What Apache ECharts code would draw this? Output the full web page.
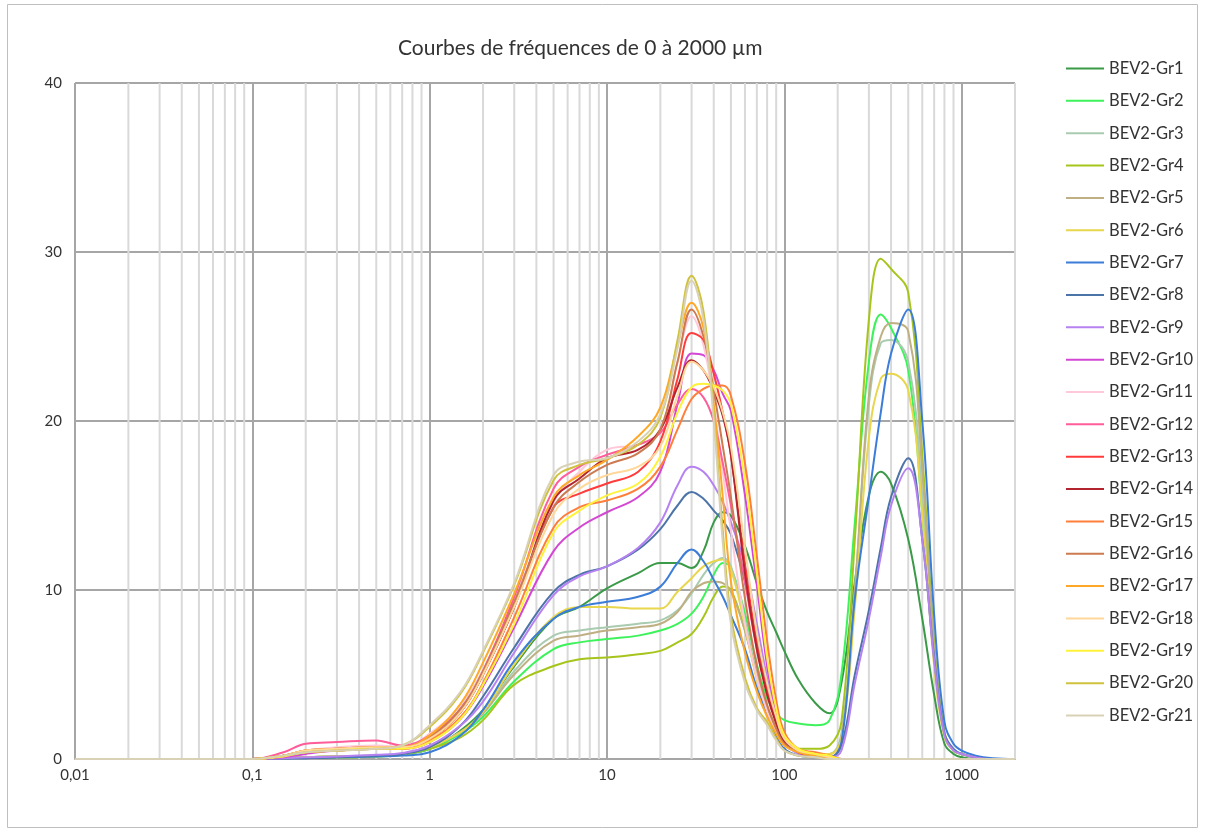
<!DOCTYPE html>
<html>
<head>
<meta charset="utf-8">
<script src="https://cdn.jsdelivr.net/npm/echarts@6/dist/echarts.min.js"></script>
<style>html,body{margin:0;padding:0;background:#fff;}#c{width:1206px;height:831px;}</style>
</head>
<body>
<div id="c"></div>
<script>
// particle sizes (µm)
const sizes = [0.01,0.1,0.15,0.2,0.3,0.5,0.7, 1,1.5,2,3,5,7, 10,15,20,25,30,35,40,45,50,60,70,80,90, 100,120,150,180, 210,250,300,350,400,500,600,700,800,900, 1000,1200,1500,2000];

const names = ['BEV2-Gr1','BEV2-Gr2','BEV2-Gr3','BEV2-Gr4','BEV2-Gr5','BEV2-Gr6','BEV2-Gr7','BEV2-Gr8','BEV2-Gr9','BEV2-Gr10','BEV2-Gr11','BEV2-Gr12','BEV2-Gr13','BEV2-Gr14','BEV2-Gr15','BEV2-Gr16','BEV2-Gr17','BEV2-Gr18','BEV2-Gr19','BEV2-Gr20','BEV2-Gr21'];
const colors = ['#3A9A47','#3DF25A','#A9CBB0','#A6C51C','#BFB083','#E8D64C','#3B7DD8','#4D74A8','#B682F2','#D447D4','#FFC9D9','#FF5C9A','#FF3B3B','#B2252F','#FF7F3A','#CC7A50','#FFA828','#FFD89A','#FFF23A','#CFC23E','#D9D1B5'];

const gr1 = [0,0,0.05,0.1,0.15,0.2,0.3, 0.6,1.7,2.9,5.5,8.3,9.0, 10.1,11.0,11.6,11.6,11.3,12.3,14.0,14.6,14.4,12.6,10.4,8.7,7.5, 6.4,4.7,3.3,2.7, 4.5,10.5,15.6,17.0,16.3,13.0,8.3,3.8,0.9,0.3, 0.1,0,0,0];
const gr2 = [0,0,0.05,0.1,0.1,0.15,0.25, 0.6,1.5,2.5,4.6,6.5,6.9, 7.1,7.3,7.6,8.0,8.6,9.6,10.9,11.6,11.3,8.6,5.6,3.6,2.7, 2.3,2.1,2.0,2.3, 5.0,14.0,23.5,26.3,25.5,23.0,14.5,6.0,1.5,0.5, 0.3,0.1,0,0];
const gr3 = [0,0,0.05,0.1,0.15,0.2,0.3, 0.7,1.6,2.7,5.2,7.3,7.6, 7.8,8.0,8.2,8.8,9.8,10.9,11.6,11.9,11.4,8.2,5.0,3.0,1.8, 1.1,0.5,0.3,0.3, 1.5,10.0,21.0,24.6,24.8,23.5,15.5,6.0,1.4,0.5, 0.3,0.1,0,0];
const gr4 = [0,0,0.05,0.1,0.1,0.15,0.25, 0.6,1.3,2.3,4.4,5.5,5.9, 6.0,6.2,6.4,6.9,7.4,8.4,9.6,10.2,10.0,7.6,4.8,2.9,1.6, 1.0,0.6,0.6,0.8, 2.2,13.0,26.0,29.6,29.0,27.6,18.0,7.0,1.6,0.5, 0.3,0.1,0,0];
const gr5 = [0,0,0.05,0.1,0.15,0.2,0.3, 0.7,1.6,2.7,5.0,7.0,7.3, 7.6,7.8,8.0,8.7,9.9,10.4,10.5,10.4,9.9,7.6,5.0,3.1,1.9, 1.1,0.5,0.3,0.3, 1.3,10.0,21.5,25.0,25.8,25.3,17.0,6.5,1.5,0.5, 0.3,0.1,0,0];
const gr6 = [0,0,0.05,0.1,0.15,0.2,0.3, 0.7,1.6,2.8,5.6,8.4,9.0, 9.0,8.9,8.9,9.9,10.7,11.4,11.7,11.8,11.2,7.9,4.7,2.7,1.5, 0.8,0.4,0.3,0.3, 1.2,9.0,19.0,22.5,22.8,21.8,14.5,5.5,1.3,0.5, 0.3,0.1,0,0];
const gr7 = [0,0,0.03,0.05,0.1,0.15,0.2, 0.4,1.4,2.9,5.8,8.3,9.0, 9.3,9.6,10.2,11.6,12.4,11.7,10.6,9.6,8.5,6.5,4.2,2.7,1.4, 0.6,0.2,0.1,0.1, 1.0,9.5,15.5,20.5,24.0,26.6,20.0,8.5,2.2,0.9, 0.5,0.2,0.05,0];
const gr8 = [0,0,0.03,0.05,0.1,0.2,0.3, 0.7,2.0,3.7,6.6,9.9,10.9, 11.4,12.4,13.6,15.0,15.8,15.4,14.7,14.1,13.3,10.5,7.0,4.2,2.2, 1.0,0.4,0.2,0.1, 0.8,5.0,8.8,12.5,15.5,17.8,13.0,6.0,1.5,0.6, 0.3,0.1,0,0];
const gr9 = [0,0,0.05,0.1,0.15,0.25,0.35, 0.8,2.0,3.4,6.3,9.7,10.8, 11.4,12.5,14.0,16.2,17.3,17.0,16.2,15.2,14.0,11.5,8.0,4.8,2.5, 1.0,0.3,0.1,0.1, 0.5,4.5,8.3,12.0,15.0,17.2,13.0,5.8,1.4,0.5, 0.3,0.1,0,0];
const gr10 = [0,0,0.1,0.3,0.5,0.6,0.6, 1.0,2.4,4.3,7.8,12.3,13.7, 14.6,15.5,17.0,21.0,24.0,23.9,23.0,21.6,20.6,15.6,10.3,5.5,2.8, 1.2,0.5,0.3,0.2, 0,0,0,0,0,0,0,0,0,0, 0,0,0,0];
const gr11 = [0,0,0.2,0.5,0.7,0.8,0.7, 1.5,3.2,5.3,9.3,15.2,17.0, 18.3,18.6,19.4,23.5,26.2,24.5,21.0,17.0,13.5,8.0,4.8,2.8,1.6, 0.8,0.4,0.2,0.1, 0,0,0,0,0,0,0,0,0,0, 0,0,0,0];
const gr12 = [0,0,0.4,0.9,1.0,1.1,0.8, 1.4,3.0,5.2,9.6,16.0,17.3, 18.0,18.6,19.3,21.0,21.9,21.4,20.0,17.5,15.0,10.5,6.5,4.0,2.2, 1.0,0.4,0.2,0.1, 0,0,0,0,0,0,0,0,0,0, 0,0,0,0];
const gr13 = [0,0,0.2,0.5,0.6,0.7,0.7, 1.2,2.8,5.0,9.0,14.9,15.7, 16.3,17.0,18.8,22.5,25.2,24.8,22.8,20.5,18.0,11.5,6.8,4.0,2.2, 1.0,0.4,0.2,0.1, 0,0,0,0,0,0,0,0,0,0, 0,0,0,0];
const gr14 = [0,0,0.2,0.4,0.5,0.6,0.6, 1.2,2.8,5.0,9.0,15.3,16.6, 17.8,18.3,19.5,22.0,23.6,23.0,21.8,20.3,18.0,11.0,6.5,3.8,2.1, 1.0,0.4,0.2,0.1, 0,0,0,0,0,0,0,0,0,0, 0,0,0,0];
const gr15 = [0,0,0.2,0.4,0.5,0.6,0.6, 1.1,2.5,4.5,8.4,13.7,14.9, 15.3,16.0,17.3,19.5,21.3,21.9,22.1,22.1,21.5,17.5,12.0,7.0,3.5, 1.6,0.6,0.4,0.2, 0,0,0,0,0,0,0,0,0,0, 0,0,0,0];
const gr16 = [0,0,0.2,0.5,0.6,0.7,0.7, 1.3,3.0,5.2,9.3,14.9,16.4, 17.4,18.1,19.5,23.5,26.6,25.0,21.8,18.5,15.5,9.5,5.5,3.2,1.8, 0.9,0.4,0.2,0.1, 0,0,0,0,0,0,0,0,0,0, 0,0,0,0];
const gr17 = [0,0,0.2,0.5,0.6,0.7,0.7, 1.4,3.3,5.7,9.8,15.5,16.8, 17.7,19.1,20.8,24.5,27.0,25.5,21.0,15.5,10.5,6.3,4.0,2.5,1.5, 0.8,0.4,0.2,0.1, 0,0,0,0,0,0,0,0,0,0, 0,0,0,0];
const gr18 = [0,0,0.2,0.5,0.6,0.7,0.7, 1.2,2.8,5.0,9.0,14.5,16.0, 16.8,17.3,18.5,21.5,23.5,23.0,22.0,20.5,18.5,12.5,7.5,4.5,2.5, 1.2,0.5,0.3,0.1, 0,0,0,0,0,0,0,0,0,0, 0,0,0,0];
const gr19 = [0,0,0.15,0.4,0.5,0.6,0.6, 1.0,2.4,4.4,8.0,13.4,14.7, 15.6,16.3,17.9,20.5,22.0,22.2,22.1,21.8,21.0,16.5,11.0,6.0,3.0, 1.4,0.6,0.3,0.2, 0,0,0,0,0,0,0,0,0,0, 0,0,0,0];
const gr20 = [0,0,0.2,0.4,0.5,0.6,0.8, 1.9,3.9,6.3,10.3,16.5,17.4, 17.8,18.6,20.2,24.8,28.6,26.5,20.5,13.5,8.5,4.8,3.0,2.2,1.2, 0.5,0.2,0.1,0, 0,0,0,0,0,0,0,0,0,0, 0,0,0,0];
const gr21 = [0,0,0.2,0.4,0.5,0.6,0.8, 2.0,4.0,6.4,10.4,16.8,17.6, 17.8,18.8,20.4,24.3,28.3,26.0,20.0,12.8,8.0,4.5,2.9,2.0,1.1, 0.5,0.2,0.1,0, 0,0,0,0,0,0,0,0,0,0, 0,0,0,0];

// minor gridline positions (log axis)
const minorTicks = [0.02,0.03,0.04,0.05,0.06,0.07,0.08,0.09, 0.2,0.3,0.4,0.5,0.6,0.7,0.8,0.9, 2,3,4,5,6,7,8,9, 20,30,40,50,60,70,80,90, 200,300,400,500,600,700,800,900, 2000];

const allSeries = [gr1,gr2,gr3,gr4,gr5,gr6,gr7,gr8,gr9,gr10,gr11,gr12,gr13,gr14,gr15,gr16,gr17,gr18,gr19,gr20,gr21];

const FONT = 'Lato, "Open Sans", sans-serif';
const chart = echarts.init(document.getElementById('c'), null, {renderer: 'canvas'});

const series = [{
  type: 'custom',
  silent: true,
  z: 1,
  animation: false,
  data: minorTicks.map(v => [v, 0]),
  encode: {x: 0, y: 1},
  renderItem: function (params, api) {
    const v = api.value(0);
    const p0 = api.coord([v, 0]);
    const p1 = api.coord([v, 40]);
    return {type: 'line', shape: {x1: p0[0], y1: p0[1], x2: p1[0], y2: p1[1]},
            style: {stroke: '#D9D9D9', lineWidth: 2}};
  }
}];
allSeries.forEach((arr, i) => {
  series.push({
    name: names[i],
    type: 'line',
    smooth: 0.4,
    symbol: 'none',
    showSymbol: false,
    z: 2,
    animation: false,
    lineStyle: {width: 2, color: colors[i]},
    itemStyle: {color: colors[i]},
    data: sizes.map((x, j) => [x, arr[j]])
  });
});

chart.setOption({
  backgroundColor: '#ffffff',
  animation: false,
  title: {
    text: 'Courbes de fréquences de 0 à 2000 µm',
    left: 393, top: 33,
    textStyle: {fontFamily: FONT, fontSize: 21, fontWeight: 'normal', color: '#333333'}
  },
  graphic: [{
    type: 'rect', silent: true, z: -1,
    shape: {x: 7.5, y: 4.5, width: 1190, height: 823},
    style: {fill: 'none', stroke: '#BFBFBF', lineWidth: 1}
  }],
  legend: {
    data: names,
    orient: 'vertical',
    left: 1060, top: 55,
    itemWidth: 38, itemHeight: 18, itemGap: 15.35,
    itemStyle: {opacity: 0},
    textStyle: {fontFamily: FONT, fontSize: 16.5, color: '#333333'}
  },
  grid: {left: 75, right: 191, top: 83, bottom: 72},
  xAxis: {
    type: 'log', logBase: 10, min: 0.01, max: 2000,
    axisLine: {show: true, lineStyle: {color: '#A6A6A6', width: 2}},
    axisTick: {show: false},
    splitLine: {show: true, lineStyle: {color: ['#A6A6A6','#A6A6A6','#A6A6A6','#A6A6A6','#A6A6A6','#A6A6A6','#D9D9D9'], width: 2}},
    axisLabel: {
      fontFamily: FONT, fontSize: 15, color: '#333333', margin: 9,
      showMaxLabel: false,
      formatter: function (v) {
        const l = Math.log10(v);
        const e = Math.round(l);
        if (Math.abs(l - e) > 1e-6) return '';
        const s = e < 0 ? Math.pow(10, e).toFixed(-e) : String(Math.pow(10, e));
        return s.replace('.', ',');
      }
    }
  },
  yAxis: {
    type: 'value', min: 0, max: 40, interval: 10,
    axisLine: {show: false},
    axisTick: {show: false},
    splitLine: {show: true, lineStyle: {color: '#A6A6A6', width: 2}},
    axisLabel: {fontFamily: FONT, fontSize: 15, color: '#333333', margin: 13}
  },
  series: series
});
</script>
</body>
</html>
